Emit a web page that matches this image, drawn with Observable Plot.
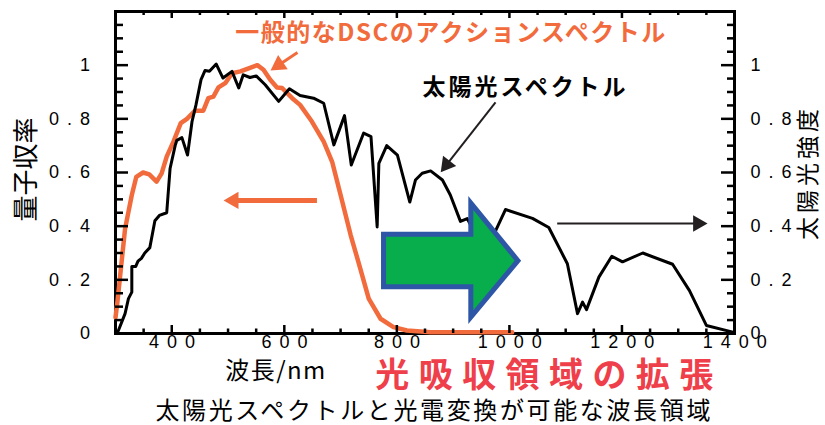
<!DOCTYPE html>
<html>
<head>
<meta charset="utf-8">
<script src="https://cdn.jsdelivr.net/npm/d3@7"></script>
<script src="https://cdn.jsdelivr.net/npm/@observablehq/plot@0.6"></script>
<style>
  html, body { margin: 0; padding: 0; background: #fff; }
  #chart svg { display: block; }
</style>
</head>
<body>
<div id="chart"></div>
<script>
// ---- Data ----
const solarNm = [300, 305, 317, 323, 329, 329, 336, 340, 346, 352, 361, 370, 378, 391, 397, 406, 409, 418, 428, 436, 443, 452, 459, 467, 479, 491, 507, 519, 527, 539, 550, 566, 590, 609, 628, 652, 670, 688, 707, 719, 741, 754, 765, 768, 782, 801, 823, 833, 845, 860, 881, 895, 913, 925, 950, 976, 993, 1041, 1070, 1103, 1121, 1130, 1137, 1159, 1182, 1201, 1237, 1290, 1320, 1350, 1397];
const solarVal = [0.00, 0.01, 0.074, 0.13, 0.154, 0.25, 0.25, 0.27, 0.28, 0.30, 0.32, 0.42, 0.44, 0.45, 0.615, 0.70, 0.72, 0.73, 0.665, 0.79, 0.852, 0.946, 0.98, 0.977, 1.004, 0.952, 0.977, 0.915, 0.964, 0.954, 0.96, 0.927, 0.865, 0.912, 0.887, 0.877, 0.858, 0.703, 0.812, 0.628, 0.747, 0.734, 0.397, 0.634, 0.70, 0.665, 0.49, 0.572, 0.597, 0.606, 0.572, 0.516, 0.418, 0.428, 0.33, 0.385, 0.462, 0.429, 0.395, 0.26, 0.074, 0.117, 0.089, 0.21, 0.288, 0.267, 0.30, 0.258, 0.16, 0.03, 0.005];

const dscNm = [300, 303, 317, 329, 337, 349, 360, 373, 382, 391, 403, 416, 427, 441, 456, 465, 474, 483, 495, 507, 522, 539, 552, 563, 575, 587, 596, 614, 628, 649, 670, 685, 700, 718, 735, 750, 771, 794, 818, 860, 1005];
const dscVal = [0.06, 0.11, 0.39, 0.516, 0.584, 0.60, 0.593, 0.566, 0.597, 0.659, 0.715, 0.784, 0.80, 0.83, 0.83, 0.877, 0.883, 0.917, 0.933, 0.97, 0.977, 0.99, 1.0, 0.983, 0.946, 0.917, 0.915, 0.877, 0.852, 0.79, 0.715, 0.64, 0.516, 0.366, 0.242, 0.13, 0.055, 0.024, 0.011, 0.005, 0.005];

const xTicks = [400, 600, 800, 1000, 1200, 1400];
const xTickLabels = ["4 0 0", "6 0 0", "8 0 0", "1 0 0 0", "1 2 0 0", "1 4 0 0"];
const yTicks = [0, 0.2, 0.4, 0.6, 0.8, 1];
const yTickLabels = ["0", "0 . 2", "0 . 4", "0 . 6", "0 . 8", "1"];

const leftTitle = "量子収率";
const rightTitle = "太陽光強度";

// annotation texts (anchored in data units: nm, value)
const noteText = ["一般的なDSCのアクションスペクトル", "太陽光スペクトル", "波長/nm", "光吸収領域の拡張", "太陽光スペクトルと光電変換が可能な波長領域"];
const noteX = [895, 1026, 584, 1062, 864];
const noteY = [1.118, 0.917, -0.1416, -0.157, -0.291];

// annotation arrows: shafts and heads (data units)
const shaftX1 = [658, 623.4, 975.3, 1084.9];
const shaftY1 = [0.496, 1.047, 0.861, 0.41];
const shaftX2 = [509.7, 590.2, 888.5, 1335];
const shaftY2 = [0.496, 1.001, 0.6295, 0.41];
const headRot = [-90, 236, 218, 90];

// big block arrow outline (data units)
const blockX = [777.2, 932.3, 932.3, 1016];
const blockTop = [0.368, 0.368, 0.4845, 0.2695];
const blockBottom = [0.172, 0.172, 0.0596, 0.2695];

// ---- Build ----
const W = 825, H = 425;
const mL = 115, mR = 91, mT = 11, mB = 92;
const plotW = W - mL - mR, plotH = H - mT - mB;

const ORANGE = "#F26B3C", RED = "#EE3F4A", GREEN = "#08AD4C", BLUE = "#2E56A6", INK = "#231F20";
const JP = "'Noto Sans CJK JP', 'Noto Sans', sans-serif";
const LAT = "'Liberation Sans', Arial, sans-serif";

const solar = solarNm.map((x, i) => ({x, y: solarVal[i]}));
const dsc = dscNm.map((x, i) => ({x, y: dscVal[i]}));
const notes = noteText.map((t, i) => ({t, x: noteX[i], y: noteY[i]}));
const shafts = shaftX1.map((x1, i) => ({x1, y1: shaftY1[i], x2: shaftX2[i], y2: shaftY2[i], rot: headRot[i]}));
const block = blockX.map((x, i) => ({x, y1: blockTop[i], y2: blockBottom[i]}));

const xMinor = d3.range(300, 1401, 50).filter(v => !xTicks.includes(v));
const yAll = d3.range(0, 25).map(i => +(i * 0.05).toFixed(2));
const yMinor = yAll.filter(v => !yTicks.some(t => Math.abs(t - v) < 1e-9));

const tickStyle = {stroke: "#000", strokeWidth: 2.5};

const chart = Plot.plot({
  width: W, height: H,
  marginLeft: mL, marginRight: mR, marginTop: mT, marginBottom: mB,
  x: {domain: [300, 1400], axis: null},
  y: {domain: [0, 1.2], axis: null},
  style: {fontFamily: LAT, background: "#fff", color: "#000"},
  marks: [
    Plot.frame({stroke: "#000", strokeWidth: 3}),
    Plot.line(dsc, {x: "x", y: "y", stroke: ORANGE, strokeWidth: 4.5, strokeLinejoin: "round", strokeLinecap: "round"}),
    Plot.line(solar, {x: "x", y: "y", stroke: "#000", strokeWidth: 3, strokeLinejoin: "round"}),
    // block arrow
    Plot.areaY(block, {x: "x", y1: "y1", y2: "y2", fill: GREEN, stroke: BLUE, strokeWidth: 5, strokeLinejoin: "miter", strokeMiterlimit: 10}),
    // ticks: bottom
    Plot.ruleX(xTicks, {x: d => d, insetTop: plotH - 8, ...tickStyle}),
    Plot.ruleX(xMinor, {x: d => d, insetTop: plotH - 4.5, ...tickStyle}),
    // ticks: top
    Plot.ruleX(xTicks, {x: d => d, insetBottom: plotH - 7, ...tickStyle}),
    Plot.ruleX(xMinor, {x: d => d, insetBottom: plotH - 4, ...tickStyle}),
    // ticks: left
    Plot.ruleY(yTicks, {y: d => d, insetRight: plotW - 13, ...tickStyle}),
    Plot.ruleY(yMinor, {y: d => d, insetRight: plotW - 8, ...tickStyle}),
    // ticks: right
    Plot.ruleY(yTicks, {y: d => d, insetLeft: plotW - 13, ...tickStyle}),
    Plot.ruleY(yMinor, {y: d => d, insetLeft: plotW - 7, ...tickStyle}),
    // tick labels
    Plot.text(xTicks, {x: d => d, text: (d, i) => xTickLabels[i], frameAnchor: "bottom", dy: 14, dx: 1, fontSize: 18, fontFamily: LAT, fill: "#000"}),
    Plot.text(yTicks, {y: d => d, text: (d, i) => yTickLabels[i], frameAnchor: "left", dx: -24, textAnchor: "end", fontSize: 18, fontFamily: LAT, fill: "#000"}),
    Plot.text(yTicks, {y: d => d, text: (d, i) => yTickLabels[i], frameAnchor: "right", dx: 16, textAnchor: "start", fontSize: 18, fontFamily: LAT, fill: "#000"}),
    // axis titles
    Plot.text([leftTitle], {frameAnchor: "left", dx: -89, dy: -3, rotate: -90, textAnchor: "middle", fontSize: 26, fontFamily: JP, fill: "#000"}),
    Plot.text([rightTitle], {frameAnchor: "right", dx: 74, dy: 0, rotate: -90, textAnchor: "middle", fontSize: 23, fontFamily: JP, fill: "#000"}),
    // arrows
    Plot.link(shafts.slice(0, 1), {x1: "x1", y1: "y1", x2: "x2", y2: "y2", stroke: ORANGE, strokeWidth: 5}),
    Plot.link(shafts.slice(1, 2), {x1: "x1", y1: "y1", x2: "x2", y2: "y2", stroke: ORANGE, strokeWidth: 3}),
    Plot.link(shafts.slice(2, 4), {x1: "x1", y1: "y1", x2: "x2", y2: "y2", stroke: INK, strokeWidth: 2}),
    Plot.dot(shafts.slice(0, 2), {x: "x2", y: "y2", rotate: "rot", symbol: "triangle", r: 6.4, fill: ORANGE, stroke: "none"}),
    Plot.dot(shafts.slice(2, 4), {x: "x2", y: "y2", rotate: "rot", symbol: "triangle", r: 6.2, fill: INK, stroke: "none"}),
    // annotation texts
    Plot.text(notes.slice(0, 1), {x: "x", y: "y", text: "t", fontSize: 24, fontWeight: "bold", fontFamily: JP, fill: ORANGE}),
    Plot.text(notes.slice(1, 2), {x: "x", y: "y", text: "t", fontSize: 23, fontWeight: "bold", fontFamily: JP, fill: "#000"}),
    Plot.text(notes.slice(2, 3), {x: "x", y: "y", text: "t", fontSize: 24, fontFamily: JP, fill: "#000"}),
    Plot.text(notes.slice(3, 4), {x: "x", y: "y", text: "t", fontSize: 34, fontWeight: "bold", fontFamily: JP, fill: RED}),
    Plot.text(notes.slice(4, 5), {x: "x", y: "y", text: "t", fontSize: 24, fontFamily: JP, fill: "#000"})
  ]
});

document.getElementById("chart").appendChild(chart);

// fine typographic spacing to match the reference widths
const fitWidths = new Map([
  [noteText[0], 430], [noteText[1], 203], [noteText[2], 100], [noteText[3], 338], [noteText[4], 555]
]);
d3.select(chart).selectAll("text").each(function() {
  const t = this.textContent;
  if (fitWidths.has(t)) {
    this.setAttribute("textLength", fitWidths.get(t));
    this.setAttribute("lengthAdjust", "spacing");
  } else if (/^[0-9 .]+$/.test(t)) {
    this.setAttribute("letter-spacing", "1.5");
  } else if (t === rightTitle) {
    this.setAttribute("letter-spacing", "4");
  }
});
</script>
</body>
</html>
